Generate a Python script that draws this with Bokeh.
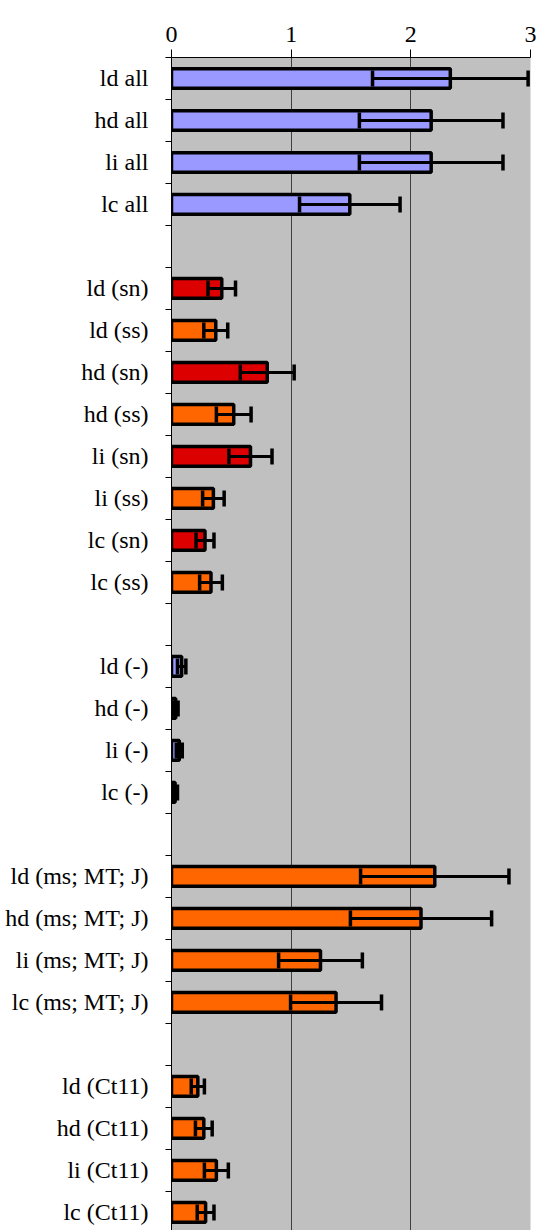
from bokeh.plotting import figure
from bokeh.models import (Range1d, FixedTicker, Whisker, TeeHead, ColumnDataSource,
                          CustomJSTickFormatter)
from bokeh.embed import file_html
from bokeh.resources import INLINE

# ---- data (None = empty separator row) ----
labels = ["ld all", "hd all", "li all", "lc all", None,
          "ld (sn)", "ld (ss)", "hd (sn)", "hd (ss)", "li (sn)", "li (ss)", "lc (sn)", "lc (ss)", None,
          "ld (-)", "hd (-)", "li (-)", "lc (-)", None,
          "ld (ms; MT; J)", "hd (ms; MT; J)", "li (ms; MT; J)", "lc (ms; MT; J)", None,
          "ld (Ct11)", "hd (Ct11)", "li (Ct11)", "lc (Ct11)"]
values = [2.33, 2.17, 2.17, 1.49, None,
          0.42, 0.37, 0.80, 0.52, 0.66, 0.35, 0.28, 0.33, None,
          0.085, 0.035, 0.065, 0.03, None,
          2.20, 2.085, 1.245, 1.375, None,
          0.22, 0.27, 0.375, 0.285]
errors = [0.65, 0.60, 0.60, 0.42, None,
          0.115, 0.10, 0.225, 0.145, 0.18, 0.09, 0.075, 0.095, None,
          0.035, 0.02, 0.025, 0.02, None,
          0.62, 0.59, 0.35, 0.38, None,
          0.055, 0.07, 0.10, 0.07]
groups = ["all", "all", "all", "all", None,
          "sn", "ss", "sn", "ss", "sn", "ss", "sn", "ss", None,
          "none", "none", "none", "none", None,
          "ss", "ss", "ss", "ss", None,
          "ss", "ss", "ss", "ss"]
group_colors = {"all": "#9999FF", "sn": "#DD0000", "ss": "#FF6600", "none": "#9999FF"}
x_ticks = [0, 1, 2, 3]

ys, vals, los, his, cols = [], [], [], [], []
for i, (lab, v, e, g) in enumerate(zip(labels, values, errors, groups)):
    if lab is None:
        continue
    ys.append(i)
    vals.append(v)
    los.append(v - e)
    his.append(v + e)
    cols.append(group_colors[g])

src = ColumnDataSource(dict(y=ys, val=vals, lo=los, hi=his, color=cols))

n = len(labels)
FONT = "Liberation Serif"

p = figure(width=539, height=1230, output_backend="svg", toolbar_location=None,
           x_range=Range1d(0, 3), y_range=Range1d(27.43, -0.5),
           x_axis_location="above", min_border_left=171, min_border_top=57,
           min_border_bottom=0, min_border_right=9)
p.background_fill_color = "#C0C0C0"
p.border_fill_color = "white"
p.outline_line_color = None

p.hbar(y="y", right="val", left=0, height=0.47, source=src, fill_color="color",
       line_color="black", line_width=3.5)

wh = Whisker(source=src, base="y", lower="lo", upper="hi", dimension="width",
             line_color="black", line_width=3, level="overlay",
             upper_head=TeeHead(size=16, line_width=3.5, line_color="black"),
             lower_head=TeeHead(size=16, line_width=3.5, line_color="black"))
p.add_layout(wh)

# x axis (top)
xa = p.xaxis[0]
xa.ticker = FixedTicker(ticks=x_ticks)
xa.major_label_text_font = FONT
xa.major_label_text_font_size = "24px"
xa.major_label_text_color = "black"
xa.major_tick_out = 8
xa.major_tick_in = 0
xa.minor_tick_out = 0
xa.minor_tick_in = 0
xa.axis_line_color = "black"
xa.major_label_standoff = 8

# y axis (left)
ya = p.yaxis[0]
ya.ticker = FixedTicker(ticks=ys, minor_ticks=[i - 0.5 for i in range(n + 1)])
ya.formatter = CustomJSTickFormatter(args=dict(labels=[l or "" for l in labels]),
                                     code="return labels[Math.round(tick)] || '';")
ya.major_label_text_font = FONT
ya.major_label_text_font_size = "24px"
ya.major_label_text_color = "black"
ya.major_tick_out = 0
ya.major_tick_in = 0
ya.minor_tick_out = 6
ya.minor_tick_in = 0
ya.minor_tick_line_color = "black"
ya.axis_line_color = "black"
ya.major_label_standoff = 17

p.xgrid.ticker = FixedTicker(ticks=x_ticks)
p.xgrid.grid_line_color = "#404040"
p.xgrid.grid_line_width = 1
p.ygrid.grid_line_color = None

open("out.html", "w").write(file_html(p, INLINE))
